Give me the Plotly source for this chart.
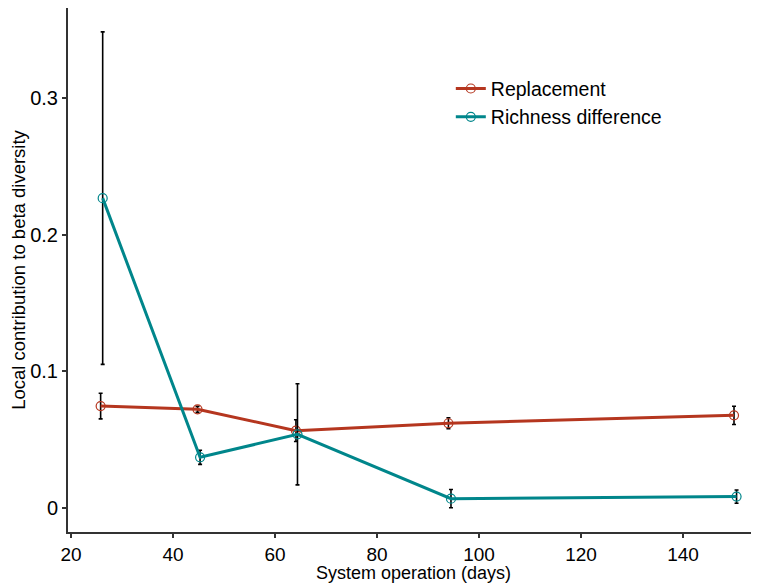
import plotly.graph_objects as go

# Data
days_repl = [25.8, 44.8, 64.1, 94.0, 150.0]
repl = [0.0746, 0.0722, 0.0566, 0.0620, 0.0678]
repl_err = [0.0094, 0.0022, 0.0080, 0.0040, 0.0067]

days_rich = [26.2, 45.3, 64.4, 94.5, 150.5]
rich = [0.2268, 0.0371, 0.0539, 0.0068, 0.0083]
rich_err = [0.1217, 0.0052, 0.0370, 0.0067, 0.0049]

x_ticks = [20, 40, 60, 80, 100, 120, 140]
y_ticks = [0, 0.1, 0.2, 0.3]
y_ticklabels = ["0", "0.1", "0.2", "0.3"]

RED = "#B5361F"
TEAL = "#00868B"
FONT = "Liberation Sans, Arial, sans-serif"

fig = go.Figure()
for name, xs, ys, es, col in [
    ("Replacement", days_repl, repl, repl_err, RED),
    ("Richness difference", days_rich, rich, rich_err, TEAL),
]:
    fig.add_trace(go.Scatter(
        x=xs, y=ys, name=name, mode="lines+markers",
        line=dict(color=col, width=3),
        marker=dict(symbol="circle-open", size=9, color=col, line=dict(width=1.2, color=col)),
        error_y=dict(type="data", array=es, visible=True, color="black", thickness=1.6, width=2),
    ))

fig.update_layout(
    width=751, height=575,
    paper_bgcolor="white", plot_bgcolor="white",
    margin=dict(l=60, r=0, t=0, b=51, autoexpand=False),
    font=dict(family=FONT, size=18, color="black"),
    showlegend=True,
    legend=dict(x=0.554, y=0.883, xanchor="left", yanchor="top",
                bgcolor="rgba(0,0,0,0)", font=dict(size=19.5), itemwidth=30,
                tracegroupgap=0),
    xaxis=dict(
        range=[19.4, 154.9], tickvals=x_ticks, showgrid=False, zeroline=False,
        showline=True, linecolor="#333333", linewidth=2,
        ticks="outside", ticklen=4, tickcolor="#333333", tickwidth=1.5,
        tickfont=dict(size=19, color="black"),
        title=dict(text="System operation (days)", font=dict(size=18), standoff=2),
    ),
    yaxis=dict(
        range=[-0.0176, 0.366], tickvals=y_ticks, ticktext=y_ticklabels,
        showgrid=False, zeroline=False,
        showline=True, linecolor="#333333", linewidth=2,
        ticks="outside", ticklen=4, tickcolor="#333333", tickwidth=1.5,
        tickfont=dict(size=20, color="black"),
        title=dict(text="Local contribution to beta diversity", font=dict(size=18.5), standoff=6),
    ),
)

fig.write_html("out.html")
